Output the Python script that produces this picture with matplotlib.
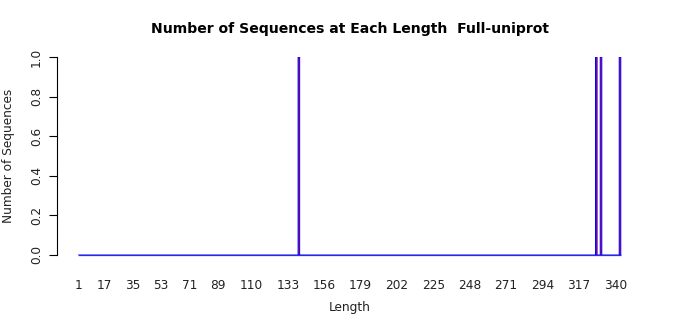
import numpy as np
import matplotlib
matplotlib.use('Agg')
import matplotlib.pyplot as plt

# sequence lengths seen, with how many sequences have each length
MIN_LENGTH = 1
MAX_LENGTH = 343
seen_lengths = [140, 328, 331, 343]
seen_counts = [1, 1, 1, 1]

tick_lengths = [1, 17, 35, 53, 71, 89, 110, 133, 156, 179, 202, 225, 248, 271, 294, 317, 340]
y_ticks = [0.0, 0.2, 0.4, 0.6, 0.8, 1.0]

TITLE = 'Number of Sequences at Each Length  Full-uniprot'
BAR_W = 1.0


def build_counts():
    lengths = list(range(MIN_LENGTH, MAX_LENGTH + 1))
    counts = [0] * len(lengths)
    for length, n in zip(seen_lengths, seen_counts):
        counts[lengths.index(length)] = n
    return lengths, counts


def main():
    lengths, counts = build_counts()

    W, H = 700, 315
    fig = plt.figure(figsize=(W / 100, H / 100), dpi=100)
    left, right, top, bottom = 57, 640, 57, 255
    ax = fig.add_axes([left / W, 1 - bottom / H, (right - left) / W, (bottom - top) / H])

    bars = ax.bar(lengths, counts, width=BAR_W, color='red', edgecolor='blue', linewidth=0.7)
    for b in bars:
        b.set_snap(False)
    # zero height bars only leave their blue border along the bottom
    ax.hlines(0, lengths[0] - BAR_W / 2, lengths[-1] + BAR_W / 2, color='#2a2ae0',
              linewidth=0.9, clip_on=False)

    px_per_unit = (620 - 79) / (MAX_LENGTH - MIN_LENGTH)
    ax.set_xlim(MIN_LENGTH - (79 - left) / px_per_unit, MAX_LENGTH + (right - 620) / px_per_unit)
    ax.set_ylim(0, 1)

    for s in ['top', 'right', 'bottom']:
        ax.spines[s].set_visible(False)
    ax.spines['left'].set_linewidth(0.8)

    ax.set_xticks(tick_lengths)
    ax.set_xticklabels([str(t) for t in tick_lengths], fontsize=8.7, color='#222222')
    ax.tick_params(axis='x', length=0, pad=17)

    ax.set_yticks(y_ticks)
    ax.set_yticklabels(['%.1f' % t for t in y_ticks], fontsize=8.7, rotation=90, va='center',
                       color='#222222')
    ax.tick_params(axis='y', length=6, width=0.8, pad=4)

    fig.text(350 / W, 1 - 29 / H, TITLE, ha='center', va='center', fontsize=10.1, fontweight='bold')
    fig.text(350 / W, 1 - 307 / H, 'Length', ha='center', va='center', fontsize=8.7,
             color='#222222')
    fig.text(9 / W, 1 - 156 / H, 'Number of Sequences', ha='center', va='center',
             fontsize=8.7, rotation=90, color='#222222')

    fig.savefig('out.png', dpi=100)


if __name__ == '__main__':
    main()
